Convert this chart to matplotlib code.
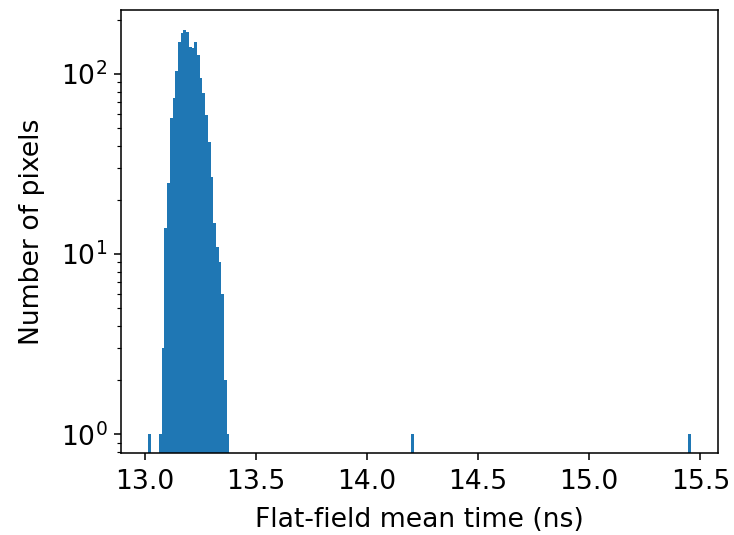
import numpy as np
import matplotlib

matplotlib.use("Agg")
import matplotlib.pyplot as plt

# histogram: 200 equal bins between the min and max mean time
t_min = 13.015
t_max = 15.456
n_bins = 200

# non-empty bins (index into the 200 bins) and their pixel counts
bin_index = [0, 4, 5, 6, 7, 8, 9, 10, 11, 12, 13, 14, 15, 16, 17, 18, 19,
             20, 21, 22, 23, 24, 25, 26, 27, 28, 29, 97, 199]
pixel_count = [1, 1, 3, 14, 25, 57, 74, 104, 151, 170, 176, 172, 142, 140,
               151, 128, 95, 79, 59, 42, 27, 15, 11, 9, 6, 2, 1, 1, 1]

edges = np.linspace(t_min, t_max, n_bins + 1)
counts = np.zeros(n_bins)
counts[bin_index] = pixel_count
centers = 0.5 * (edges[:-1] + edges[1:])

dpi = 140
fs = 13.7
fig = plt.figure(figsize=(734 / dpi, 535 / dpi), dpi=dpi)
ax = fig.add_axes([121 / 734, 1 - 453.3 / 535, (717.7 - 121) / 734, (453.3 - 10) / 535])

ax.hist(centers, bins=edges, weights=counts, log=True, color="#1f77b4")
ax.set_xlim(t_min - 0.05 * (t_max - t_min), t_max + 0.05 * (t_max - t_min))
ax.set_ylim(0.785, 227)
ax.set_xticks([13.0, 13.5, 14.0, 14.5, 15.0, 15.5])
ax.set_xlabel("Flat-field mean time (ns)", fontsize=fs, labelpad=6)
ax.set_ylabel("Number of pixels", fontsize=fs, labelpad=8)
ax.tick_params(labelsize=fs)
ax.tick_params(axis="x", pad=4.5)

fig.savefig("out.png", dpi=dpi)
